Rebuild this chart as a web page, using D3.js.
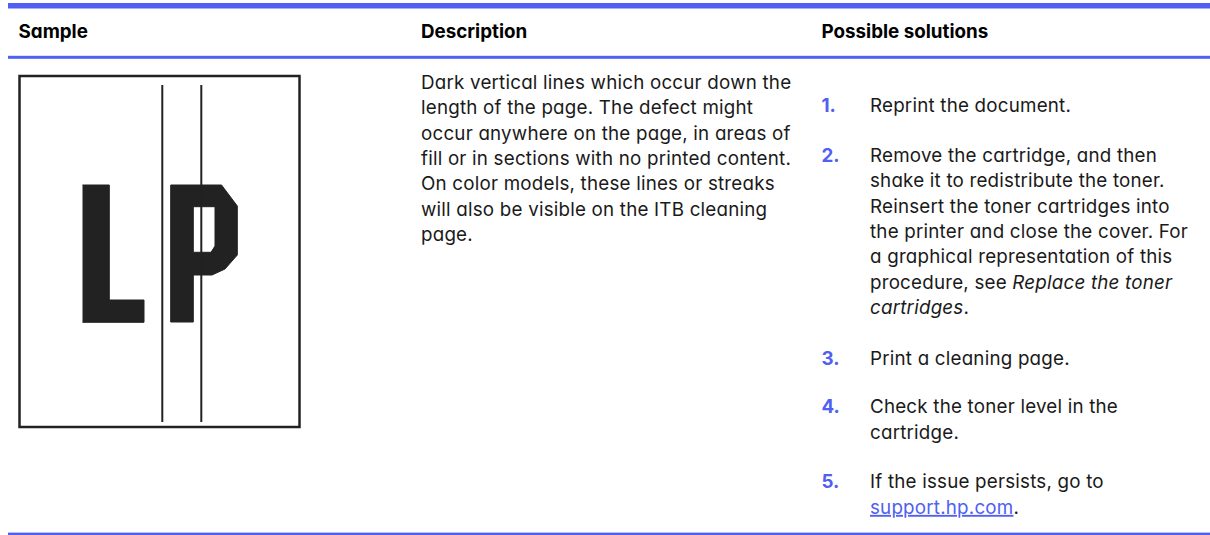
<!DOCTYPE html>
<html><head><meta charset="utf-8">
<script src="https://cdn.jsdelivr.net/npm/d3@7"></script>
<style>
html,body{margin:0;padding:0;background:#fff;}
svg{display:block;}
text{font-family:Inter,"Noto Sans",sans-serif;font-feature-settings:"cv11" 1;fill:#1a1a1a;}
</style></head><body>
<svg id="c" width="1210" height="535"></svg>
<script>
// ---- content ----
const headers = ["Sample", "Description", "Possible solutions"];
const descriptionLines = [
  "Dark vertical lines which occur down the",
  "length of the page. The defect might",
  "occur anywhere on the page, in areas of",
  "fill or in sections with no printed content.",
  "On color models, these lines or streaks",
  "will also be visible on the ITB cleaning",
  "page."
];
const stepNumbers = ["1.", "2.", "3.", "4.", "5."];
// each line is a list of [text, style] runs
const stepLines = [
  [[["Reprint the document.", ""]]],
  [[["Remove the cartridge, and then", ""]],
   [["shake it to redistribute the toner.", ""]],
   [["Reinsert the toner cartridges into", ""]],
   [["the printer and close the cover. For", ""]],
   [["a graphical representation of this", ""]],
   [["procedure, see ", ""], ["Replace the toner", "i"]],
   [["cartridges", "i"], [".", ""]]],
  [[["Print a cleaning page.", ""]]],
  [[["Check the toner level in the", ""]],
   [["cartridge.", ""]]],
  [[["If the issue persists, go to", ""]],
   [["support.hp.com", "link"], [".", ""]]]
];
const stepFirstLineY = [105, 155, 358.3, 406.7, 481.7];

const blue = "#4f60f2";
const W = 1210, H = 535;
const svg = d3.select("#c");
const fs = 18.8, ls = 0.2;

// column positions
const colX = d3.scaleOrdinal().domain(headers).range([18.5, 421, 821.5]);
const lineH = 25.4;

// rules
svg.append("rect").attr("x", 8).attr("y", 3).attr("width", W - 8).attr("height", 5.5).attr("fill", blue);
svg.append("rect").attr("x", 8).attr("y", 55.8).attr("width", W - 8).attr("height", 3).attr("fill", blue);
svg.append("rect").attr("x", 8).attr("y", 532.6).attr("width", W - 8).attr("height", 2.4).attr("fill", blue);

// headers
svg.selectAll("text.h").data(headers).join("text").attr("class", "h")
  .attr("x", d => colX(d)).attr("y", 31).attr("dy", "0.36em")
  .attr("font-size", fs).attr("font-weight", 700).style("fill", "#000")
  .text(d => d);

// description
svg.selectAll("text.d").data(descriptionLines).join("text").attr("class", "d")
  .attr("x", colX("Description")).attr("y", (d, i) => 82 + i * lineH).attr("dy", "0.36em")
  .attr("font-size", fs).attr("letter-spacing", ls).text(d => d);

// steps
const textX = 870;
stepNumbers.forEach((n, i) => {
  svg.append("text").attr("x", colX("Possible solutions")).attr("y", stepFirstLineY[i]).attr("dy", "0.36em")
    .attr("font-size", fs).attr("font-weight", 700).style("fill", blue).text(n);
  stepLines[i].forEach((runs, j) => {
    const t = svg.append("text").attr("x", textX).attr("y", stepFirstLineY[i] + j * lineH).attr("dy", "0.36em")
      .attr("font-size", fs).attr("letter-spacing", ls);
    runs.forEach(([s, st]) => {
      const ts = t.append("tspan").text(s);
      if (st === "i") ts.attr("font-style", "italic");
      if (st === "link") ts.style("fill", blue).attr("text-decoration", "underline");
    });
  });
});

// sample image
const g = svg.append("g");
const sx = d3.scaleLinear().domain([0, 100]).range([19.5, 299.5]);
const sy = d3.scaleLinear().domain([0, 100]).range([76, 427]);
g.append("rect").attr("x", sx(0)).attr("y", sy(0)).attr("width", sx(100) - sx(0)).attr("height", sy(100) - sy(0))
  .attr("fill", "none").attr("stroke", "#222").attr("stroke-width", 2.5);
// letter L
const L = [[82.5,185],[109.3,185],[109.3,300],[144,300],[144,322.3],[82.5,322.3]];
g.append("path").attr("d", d3.line()(L)).attr("fill", "#222").attr("stroke", "#222").attr("stroke-width", 1).attr("stroke-linejoin", "round");
// letter P with counter
const Pout = [[170.7,185],[221.5,185],[237.3,206],[237.3,255],[225,269],[212,275],[193.3,275],[193.3,322],[170.7,322]];
const Pin = [[193.3,206.7],[215,206.7],[215,246],[211,252.3],[193.3,252.3]];
g.append("path").attr("d", d3.line()(Pout) + "Z" + d3.line()(Pin) + "Z").attr("fill", "#222").attr("fill-rule", "evenodd")
  .attr("stroke", "#222").attr("stroke-width", 1).attr("stroke-linejoin", "round");
// streak lines
[162.3, 201.3].forEach(x => {
  g.append("line").attr("x1", x).attr("x2", x).attr("y1", 85).attr("y2", 422)
    .attr("stroke", "#222").attr("stroke-width", 2);
});
</script>
</body></html>
